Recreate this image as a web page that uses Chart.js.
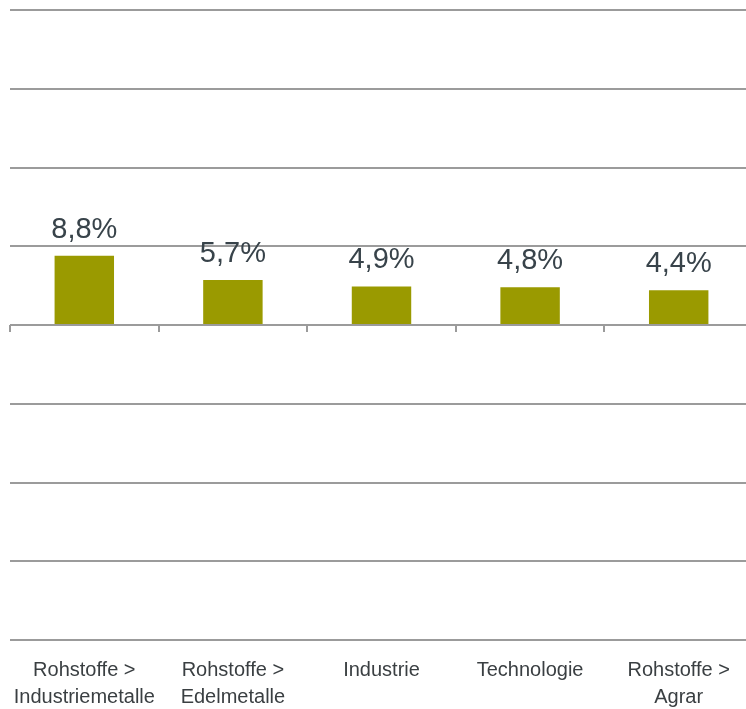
<!DOCTYPE html>
<html>
<head>
<meta charset="utf-8">
<script src="https://cdn.jsdelivr.net/npm/chart.js@4"></script>
<style>
  html, body { margin: 0; padding: 0; background: #fff; overflow: hidden; }
  #wrap { width: 756px; height: 709px; position: relative; }
</style>
</head>
<body>
<div id="wrap"><canvas id="chart"></canvas></div>
<script>
const categories = [
  ["Rohstoffe >", "Industriemetalle"],
  ["Rohstoffe >", "Edelmetalle"],
  "Industrie",
  "Technologie",
  ["Rohstoffe >", "Agrar"]
];
const values = [8.8, 5.7, 4.9, 4.8, 4.4];
const valueLabels = ["8,8%", "5,7%", "4,9%", "4,8%", "4,4%"];

const gridGray = "#9b9b9b";

// draws the value above each bar
const barLabels = {
  id: "barLabels",
  afterDatasetsDraw(chart) {
    const ctx = chart.ctx;
    const meta = chart.getDatasetMeta(0);
    ctx.save();
    ctx.font = "29px 'Liberation Sans', Arial, sans-serif";
    ctx.fillStyle = "#38434a";
    ctx.textAlign = "center";
    ctx.textBaseline = "alphabetic";
    meta.data.forEach((bar, i) => {
      ctx.fillText(valueLabels[i], bar.x, bar.y - 18);
    });
    ctx.restore();
  }
};

new Chart(document.getElementById("chart").getContext("2d"), {
  type: "bar",
  data: {
    labels: categories,
    datasets: [{
      data: values,
      backgroundColor: "#9a9a00",
      borderWidth: 0,
      categoryPercentage: 1,
      barPercentage: 0.4
    }]
  },
  options: {
    responsive: true,
    maintainAspectRatio: false,
    animation: false,
    layout: { padding: { left: 10, right: 3, top: 10, bottom: 0 } },
    plugins: { legend: { display: false }, tooltip: { enabled: false } },
    scales: {
      x: {
        position: "bottom",
        grid: { display: false, drawTicks: false },
        border: { display: false },
        ticks: {
          color: "#3a3f42",
          font: { family: "'Liberation Sans', Arial, sans-serif", size: 20, lineHeight: 1.35 },
          padding: 17,
          maxRotation: 0,
          autoSkip: false
        },
        afterFit(s) {
          s.height = 69;
          s.paddingLeft = 0;
          s.paddingRight = 0;
        }
      },
      x2: {
        type: "category",
        axis: "x",
        labels: categories,
        position: { y: 0 },
        offset: true,
        grid: { drawOnChartArea: false, drawTicks: true, tickLength: 7, color: gridGray, lineWidth: 2 },
        border: { display: false },
        ticks: { display: false }
      },
      y: {
        min: -40,
        max: 40,
        ticks: { display: false, stepSize: 10 },
        grid: { color: gridGray, lineWidth: 2, drawTicks: false },
        border: { display: false }
      }
    }
  },
  plugins: [barLabels]
});
</script>
</body>
</html>
